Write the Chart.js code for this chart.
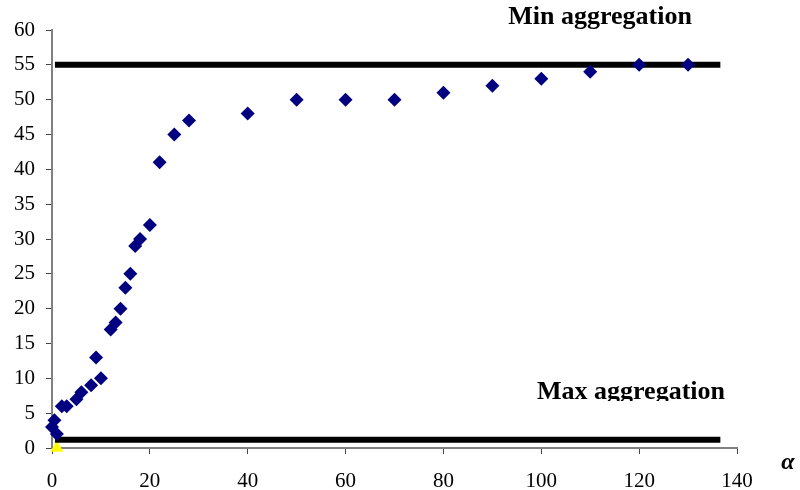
<!DOCTYPE html>
<html>
<head>
<meta charset="utf-8">
<script src="https://cdn.jsdelivr.net/npm/chart.js@4.4.0/dist/chart.umd.min.js"></script>
<style>
  html, body { margin: 0; padding: 0; background: #fff; }
  #wrap { width: 800px; height: 490px; }
</style>
</head>
<body>
<div id="wrap"><canvas id="canva" width="800" height="490"></canvas></div>
<script>
// datos
const alfa = [0, 0.5, 1, 2, 3, 5, 6, 8, 9, 10, 12, 13, 14, 15, 16, 17, 18, 20, 22, 25, 28, 40, 50, 60, 70, 80, 90, 100, 110, 120, 130];
const valores = [3, 4, 2, 6, 6, 7, 8, 9, 13, 10, 17, 18, 20, 23, 25, 29, 30, 32, 41, 45, 47, 48, 50, 50, 50, 51, 52, 53, 54, 55, 55];

const puntoAmarillo = [{ x: 1, y: 0 }];

const minAgregacion = 55;
const maxAgregacion = 1.2;
const lineaDesde = 0.6;
const lineaHasta = 136.6;

const ticksX = [0, 20, 40, 60, 80, 100, 120, 140];
const ticksY = [0, 5, 10, 15, 20, 25, 30, 35, 40, 45, 50, 55, 60];

const fuente = "'Liberation Serif', 'Times New Roman', serif";

// textos sueltos sobre el grafico
const textos = {
  id: "textos",
  afterDraw(chart) {
    const ctx = chart.ctx;
    ctx.save();
    ctx.fillStyle = "#000";
    ctx.textAlign = "center";
    ctx.textBaseline = "alphabetic";
    ctx.font = "bold 26px " + fuente;
    ctx.fillText("Min aggregation", 600, 24);

    // el texto de abajo sale cortado en el original
    ctx.save();
    ctx.beginPath();
    ctx.rect(0, 0, 800, 401);
    ctx.clip();
    ctx.fillText("Max aggregation", 631, 399);
    ctx.restore();

    ctx.font = "bold italic 24px " + fuente;
    ctx.fillText("α", 788, 469);
    ctx.restore();
  }
};

const puntos = alfa.map((a, i) => ({ x: a, y: valores[i] }));

new Chart(document.getElementById("canva").getContext("2d"), {
  type: "scatter",
  data: {
    datasets: [
      {
        data: puntos,
        order: 0,
        pointStyle: "rectRot",
        pointRadius: 7,
        backgroundColor: "#000080",
        borderColor: "#000080",
        borderWidth: 0,
        clip: false
      },
      {
        type: "line",
        data: [{ x: lineaDesde, y: minAgregacion }, { x: lineaHasta, y: minAgregacion }],
        order: 1,
        borderColor: "#000",
        borderWidth: 6,
        pointRadius: 0,
        borderCapStyle: "butt",
        clip: false
      },
      {
        type: "line",
        data: [{ x: lineaDesde, y: maxAgregacion }, { x: lineaHasta, y: maxAgregacion }],
        order: 1,
        borderColor: "#000",
        borderWidth: 6,
        pointRadius: 0,
        borderCapStyle: "butt",
        clip: false
      },
      {
        data: puntoAmarillo,
        order: 3,
        pointStyle: "triangle",
        pointRadius: 7.5,
        backgroundColor: "#ffff00",
        borderColor: "#ffff00",
        borderWidth: 0,
        clip: false
      }
    ]
  },
  options: {
    responsive: false,
    animation: false,
    layout: { padding: { left: 0, top: 30, right: 63, bottom: 0 } },
    plugins: { legend: { display: false }, tooltip: { enabled: false } },
    scales: {
      x: {
        type: "linear",
        min: 0,
        max: 140,
        afterBuildTicks: (s) => { s.ticks = ticksX.map(v => ({ value: v })); },
        afterFit: (s) => { s.height = 42; },
        grid: { drawOnChartArea: false, drawTicks: true, tickLength: 6, color: "#444", lineWidth: 1 },
        border: { color: "#808080", width: 2 },
        ticks: { color: "#000", font: { family: fuente, size: 21 }, padding: 15, maxRotation: 0 }
      },
      y: {
        type: "linear",
        min: 0,
        max: 60,
        afterBuildTicks: (s) => { s.ticks = ticksY.map(v => ({ value: v })); },
        afterFit: (s) => { s.width = 52; },
        grid: { drawOnChartArea: false, drawTicks: true, tickLength: 6, color: "#444", lineWidth: 1 },
        border: { color: "#808080", width: 2 },
        ticks: { color: "#000", font: { family: fuente, size: 21 }, padding: 11 }
      }
    }
  },
  plugins: [textos]
});
</script>
</body>
</html>
